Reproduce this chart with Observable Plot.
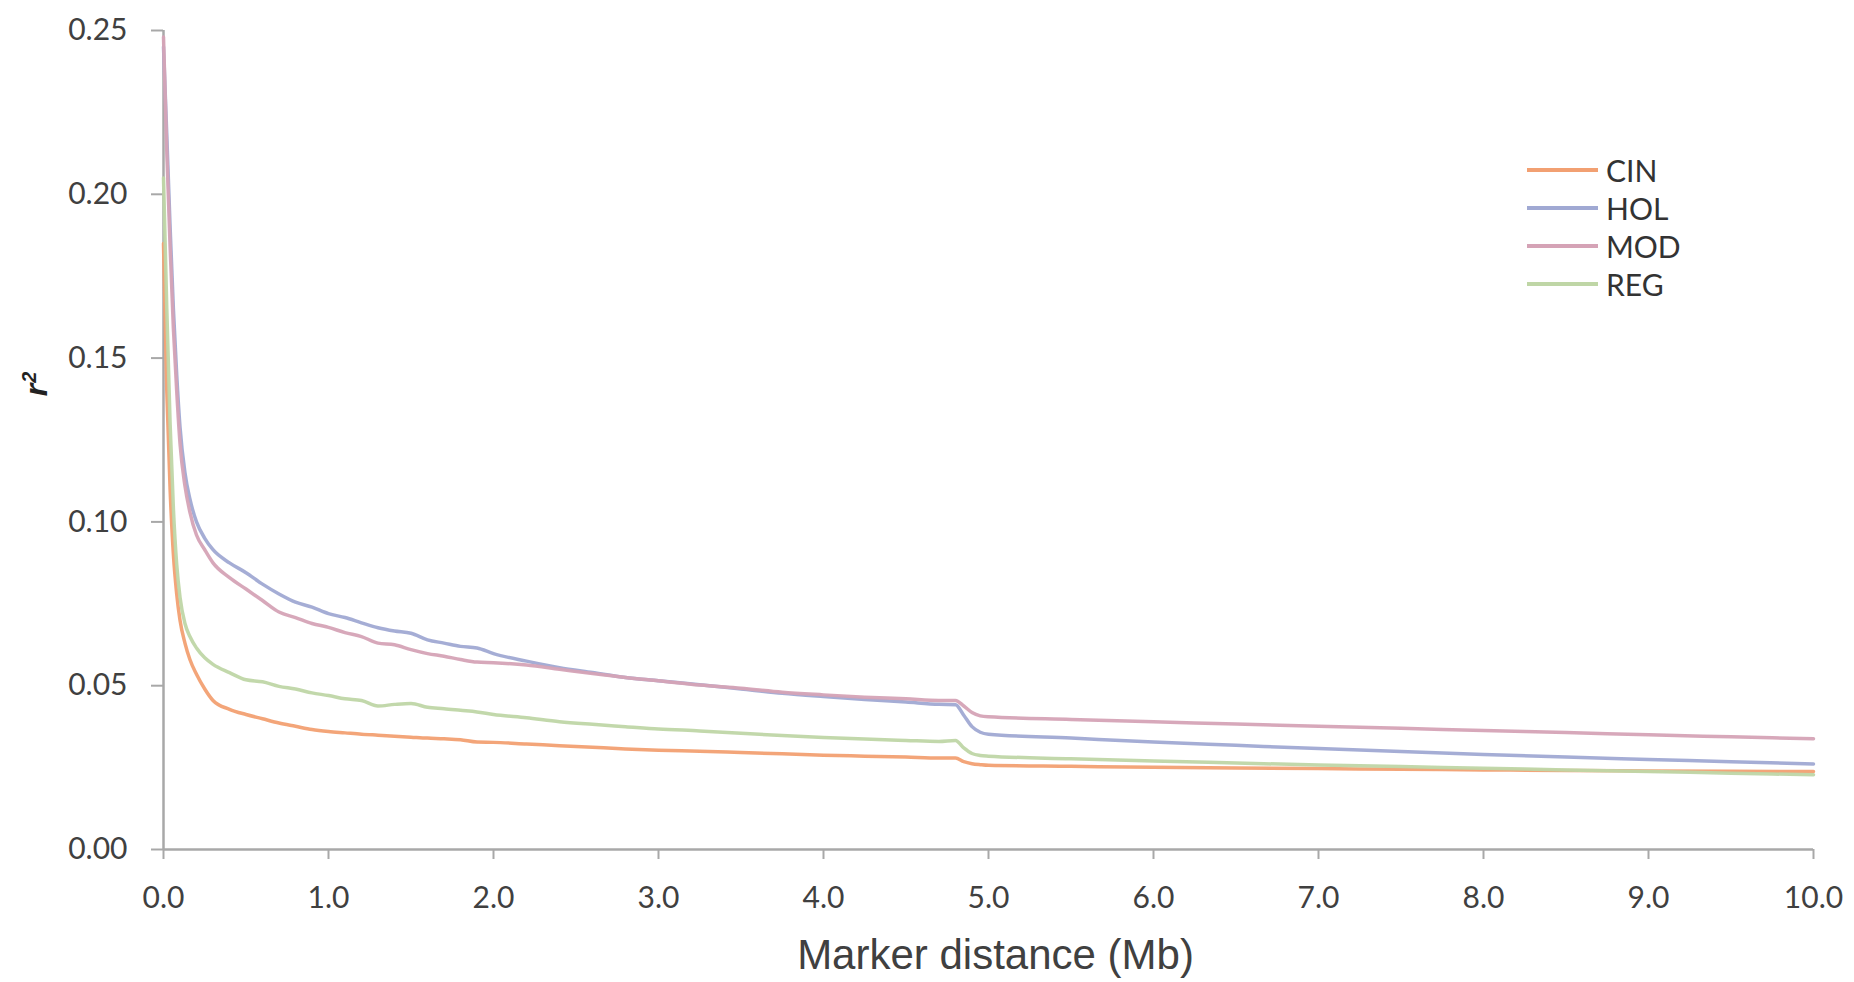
<!DOCTYPE html>
<html>
<head>
<meta charset="utf-8">
<script src="https://cdn.jsdelivr.net/npm/d3@7"></script>
<script src="https://cdn.jsdelivr.net/npm/@observablehq/plot@0.6"></script>
<style>
  html, body { margin: 0; padding: 0; background: #fff; }
  #wrap { position: relative; width: 1854px; height: 982px; }
  #legend { position: absolute; left: 1527px; top: 151px; font-family: Lato, "Open Sans", sans-serif; font-size: 30px; color: #333; }
  .row { height: 38px; display: flex; align-items: center; }
  .sw { width: 71px; height: 4px; margin-right: 8px; }
  #ylab { position: absolute; left: 36px; top: 384px; transform: translate(-50%, -50%) rotate(-90deg);
          font: italic bold 32px "Liberation Sans", Arial, sans-serif; color: #222; white-space: nowrap; line-height: 1; }
  #ylab sup { font-size: 0.62em; vertical-align: 0.55em; margin-left: 1px; }
</style>
</head>
<body>
<div id="wrap"><div id="legend"></div><div id="ylab"></div></div>
<script>
const seriesNames = ["CIN", "HOL", "MOD", "REG"];
const seriesColors = ["#F2A072", "#A0A9D3", "#D5A3B6", "#BFD6A6"];

const distance = [0, 0.02, 0.04, 0.06, 0.08, 0.1, 0.13, 0.16, 0.2, 0.25, 0.3, 0.4, 0.5, 0.6, 0.7, 0.8, 0.9, 1.0, 1.1, 1.2, 1.3, 1.4, 1.5, 1.6, 1.7, 1.8, 1.9, 2.0, 2.2, 2.4, 2.6, 2.8, 3.0, 3.25, 3.5, 3.75, 4.0, 4.25, 4.5, 4.7, 4.8, 4.85, 4.9, 4.95, 5.0, 5.5, 6.0, 6.5, 7.0, 7.5, 8.0, 8.5, 9.0, 9.5, 10.0];

const cinR2 = [0.185, 0.14, 0.11, 0.09, 0.078, 0.07, 0.063, 0.058, 0.0535, 0.049, 0.0455, 0.0428, 0.0412, 0.0399, 0.0386, 0.0376, 0.0366, 0.036, 0.0356, 0.0352, 0.0349, 0.0346, 0.0343, 0.034, 0.0338, 0.0335, 0.0328, 0.0327, 0.0322, 0.0317, 0.0312, 0.0307, 0.0303, 0.03, 0.0296, 0.0292, 0.0288, 0.0285, 0.0282, 0.0279, 0.0279, 0.0268, 0.0262, 0.0259, 0.0257, 0.0254, 0.0251, 0.0249, 0.0247, 0.0245, 0.0243, 0.0241, 0.024, 0.0239, 0.0238];
const holR2 = [0.245, 0.218, 0.19, 0.165, 0.145, 0.129, 0.115, 0.107, 0.1, 0.095, 0.0915, 0.0875, 0.0845, 0.081, 0.078, 0.0755, 0.074, 0.072, 0.0708, 0.0692, 0.0677, 0.0667, 0.066, 0.064, 0.063, 0.062, 0.0615, 0.0598, 0.0575, 0.0555, 0.054, 0.0525, 0.0515, 0.0503, 0.049, 0.0477, 0.0467, 0.0458, 0.045, 0.0443, 0.0442, 0.041, 0.0375, 0.0358, 0.0352, 0.034, 0.0328, 0.0318, 0.0308, 0.0299, 0.029, 0.0282, 0.0275, 0.0268, 0.0261];
const modR2 = [0.248, 0.213, 0.184, 0.159, 0.14, 0.124, 0.111, 0.103, 0.096, 0.0915, 0.0875, 0.083, 0.0795, 0.076, 0.0725, 0.0708, 0.069, 0.0678, 0.0662, 0.065, 0.063, 0.0625, 0.061, 0.0598, 0.059, 0.058, 0.0572, 0.057, 0.0563, 0.055, 0.0537, 0.0525, 0.0515, 0.0502, 0.0492, 0.048, 0.0472, 0.0465, 0.046, 0.0455, 0.0455, 0.0438, 0.0418, 0.0408, 0.0405, 0.0397, 0.039, 0.0383, 0.0376, 0.037, 0.0363, 0.0357, 0.035, 0.0344, 0.0338];
const regR2 = [0.205, 0.165, 0.13, 0.104, 0.087, 0.077, 0.069, 0.065, 0.0615, 0.0585, 0.0565, 0.054, 0.0518, 0.0512, 0.0498, 0.049, 0.0478, 0.047, 0.046, 0.0455, 0.0438, 0.0443, 0.0446, 0.0434, 0.043, 0.0425, 0.042, 0.0412, 0.0402, 0.039, 0.0382, 0.0375, 0.0368, 0.0362, 0.0355, 0.0348, 0.0342, 0.0337, 0.0333, 0.033, 0.0333, 0.031, 0.0293, 0.0287, 0.0285, 0.0277, 0.027, 0.0264, 0.0258, 0.0253, 0.0248, 0.0243, 0.0238, 0.0233, 0.0228];

const xTicks = [0, 1, 2, 3, 4, 5, 6, 7, 8, 9, 10];
const yTicks = [0, 0.05, 0.10, 0.15, 0.20, 0.25];
const xLabel = "Marker distance (Mb)";
const yLabelBase = "r";
const yLabelSup = "2";

const seriesValues = [cinR2, holR2, modR2, regR2];
const data = seriesNames.flatMap((name, s) =>
  distance.map((d, i) => ({series: name, dist: d, r2: seriesValues[s][i]})));

const axisColor = "#a8a8a8";
const chart = Plot.plot({
  width: 1854,
  height: 982,
  marginLeft: 163,
  marginRight: 41,
  marginTop: 30,
  marginBottom: 133,
  style: {fontFamily: "Lato, 'Open Sans', sans-serif", background: "white", color: "#404040"},
  x: {domain: [0, 10]},
  y: {domain: [0, 0.25]},
  color: {domain: seriesNames, range: seriesColors},
  marks: [
    Plot.axisX({ticks: xTicks, tickFormat: d => d.toFixed(1), tickSize: 10, tickPadding: 27, stroke: axisColor, strokeWidth: 2, fill: "#404040", fontSize: 30, label: null}),
    Plot.axisY({ticks: yTicks, tickFormat: d => d.toFixed(2), tickSize: 12, tickPadding: 24, stroke: axisColor, strokeWidth: 2, fill: "#404040", fontSize: 30, label: null}),
    Plot.ruleX([0], {stroke: axisColor, strokeWidth: 2.5}),
    Plot.ruleY([0], {stroke: axisColor, strokeWidth: 2.5}),
    Plot.line(data, {x: "dist", y: "r2", z: "series", stroke: "series", curve: "monotone-x", strokeWidth: 3.5, strokeOpacity: 0.95}),
    Plot.text([xLabel], {text: d => d, frameAnchor: "bottom", dx: 7, dy: 119, fontSize: 42, fontFamily: "'Liberation Sans', Arial, sans-serif", fill: "#404040"})
  ]
});
document.getElementById("wrap").prepend(chart);

const ylab = document.getElementById("ylab");
const base = document.createElement("span");
base.textContent = yLabelBase;
const sup = document.createElement("sup");
sup.textContent = yLabelSup;
ylab.appendChild(base);
ylab.appendChild(sup);

const legend = document.getElementById("legend");
seriesNames.forEach((name, i) => {
  const row = document.createElement("div");
  row.className = "row";
  const sw = document.createElement("div");
  sw.className = "sw";
  sw.style.background = seriesColors[i];
  const label = document.createElement("span");
  label.textContent = name;
  row.appendChild(sw);
  row.appendChild(label);
  legend.appendChild(row);
});
</script>
</body>
</html>
